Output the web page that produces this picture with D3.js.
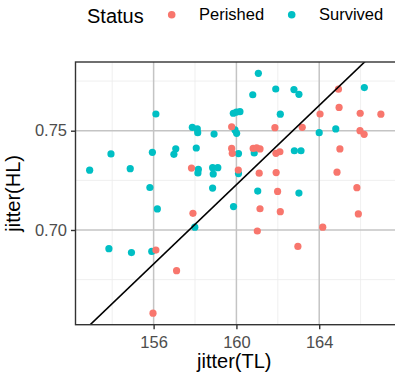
<!DOCTYPE html>
<html>
<head>
<meta charset="utf-8">
<script src="https://cdn.jsdelivr.net/npm/d3@7"></script>
<style>
  body { margin: 0; background: #fff; }
  svg { display: block; font-family: "Liberation Sans", Arial, Helvetica, sans-serif; }
</style>
</head>
<body>
<div id="chart"></div>
<script>
// values
var survivedTL = [156.11,153.94,155.94,157.07,156.98,152.91,154.87,155.82,161.06,160.79,161.90,162.78,163.02,
  159.85,160.00,160.17,162.12,157.87,158.11,158.13,158.92,159.93,160.01,158.06,160.10,160.86,162.80,163.12,
  158.16,158.14,158.85,159.10,158.88,160.10,158.85,161.03,163.02,166.18,164.00,164.80,156.18,157.99,153.84,
  154.93,155.91,159.86]
var survivedHL = [0.7584,0.7383,0.7391,0.7409,0.7381,0.7301,0.7309,0.7214,0.7789,0.7681,0.7710,0.7707,0.7683,
  0.7588,0.7594,0.7596,0.7583,0.7517,0.7509,0.7490,0.7483,0.7504,0.7487,0.7413,0.7385,0.7388,0.7399,0.7399,
  0.7305,0.7287,0.7314,0.7314,0.7282,0.7284,0.7211,0.7196,0.7186,0.7717,0.7490,0.7509,0.7106,0.7014,0.6906,
  0.6886,0.6892,0.7118]
var perishedTL = [157.83,161.86,159.77,159.77,159.80,160.81,160.98,161.14,161.91,162.10,160.09,161.10,161.92,
  161.99,164.93,164.96,164.04,165.98,166.98,163.18,165.97,166.17,165.00,164.86,165.82,157.90,156.11,157.11,
  155.97,161.14,162.12,161.01,162.97,165.89,164.17]
var perishedHL = [0.7312,0.7515,0.7520,0.7411,0.7386,0.7411,0.7414,0.7408,0.7386,0.7394,0.7302,0.7286,0.7289,
  0.7194,0.7709,0.7617,0.7584,0.7588,0.7583,0.7517,0.7500,0.7482,0.7408,0.7291,0.7213,0.7084,0.6899,0.6795,
  0.6581,0.7107,0.7092,0.6995,0.6917,0.7081,0.7014]

var statusNames = ["Perished","Survived"]
var statusColours = ["#F8766D","#00BFC4"]

var xMajor = [156,160,164]
var xMinor = [154,158,162,166]
var yMajor = [0.70,0.75]
var yMinor = [0.675,0.725,0.775]

var lineIntercept = -0.874
var lineSlope = 0.00998

var W = 395, H = 374
var pLeft = 75.5, pRight = 396, pTop = 62, pBottom = 324.7

var svg = d3.select("#chart").append("svg").attr("width",W).attr("height",H)

var x = d3.scaleLinear().domain([152.226,167.71]).range([pLeft,pRight])
var y = d3.scaleLinear().domain([0.6523,0.7846]).range([pBottom,pTop])

svg.append("defs").append("clipPath").attr("id","panel")
  .append("rect").attr("x",pLeft).attr("y",pTop).attr("width",pRight-pLeft).attr("height",pBottom-pTop)

var grid = svg.append("g")
grid.selectAll(".xmin").data(xMinor).enter().append("line")
  .attr("x1",d=>x(d)).attr("x2",d=>x(d)).attr("y1",pTop).attr("y2",pBottom)
  .attr("stroke","#EBEBEB").attr("stroke-width",0.8)
grid.selectAll(".ymin").data(yMinor).enter().append("line")
  .attr("y1",d=>y(d)).attr("y2",d=>y(d)).attr("x1",pLeft).attr("x2",pRight)
  .attr("stroke","#EBEBEB").attr("stroke-width",0.8)
grid.selectAll(".xmaj").data(xMajor).enter().append("line")
  .attr("x1",d=>x(d)).attr("x2",d=>x(d)).attr("y1",pTop).attr("y2",pBottom)
  .attr("stroke","#C4C4C4").attr("stroke-width",1.5)
grid.selectAll(".ymaj").data(yMajor).enter().append("line")
  .attr("y1",d=>y(d)).attr("y2",d=>y(d)).attr("x1",pLeft).attr("x2",pRight)
  .attr("stroke","#C4C4C4").attr("stroke-width",1.5)

var plot = svg.append("g").attr("clip-path","url(#panel)")

function drawPoints(tl,hl,colour){
  plot.append("g").selectAll("circle").data(tl).enter().append("circle")
    .attr("cx",d=>x(d)).attr("cy",(d,i)=>y(hl[i])).attr("r",3.6)
    .attr("fill",colour)
}
drawPoints(survivedTL,survivedHL,statusColours[1])
drawPoints(perishedTL,perishedHL,statusColours[0])

var xd = x.domain()
plot.append("line")
  .attr("x1",x(xd[0])).attr("y1",y(lineIntercept+lineSlope*xd[0]))
  .attr("x2",x(xd[1])).attr("y2",y(lineIntercept+lineSlope*xd[1]))
  .attr("stroke","#000").attr("stroke-width",1.6)

// panel border
svg.append("rect").attr("x",pLeft).attr("y",pTop).attr("width",pRight-pLeft).attr("height",pBottom-pTop)
  .attr("fill","none").attr("stroke","#333333").attr("stroke-width",1.4)

var xAxis = svg.append("g").attr("transform","translate(0,"+pBottom+")")
  .call(d3.axisBottom(x).tickValues(xMajor).tickSize(4.5).tickPadding(6.6).tickFormat(d3.format("d")))
var yAxis = svg.append("g").attr("transform","translate("+pLeft+",0)")
  .call(d3.axisLeft(y).tickValues(yMajor).tickSize(4.5).tickPadding(4).tickFormat(d3.format(".2f")))

;[xAxis,yAxis].forEach(function(a){
  a.select(".domain").remove()
  a.selectAll(".tick line").attr("stroke","#333333").attr("stroke-width",1.4)
  a.selectAll(".tick text").attr("fill","#4D4D4D").style("font-size","16.5px")
    .style("font-family","'Liberation Sans', Arial, sans-serif")
})

svg.append("text").text("jitter(TL)")
  .attr("x",(pLeft+393)/2).attr("y",368).attr("text-anchor","middle")
  .style("font-size","20px").attr("fill","#000")
svg.append("text").text("jitter(HL)")
  .attr("transform","translate(20,"+((pTop+pBottom)/2)+") rotate(-90)")
  .attr("text-anchor","middle").style("font-size","20px").attr("fill","#000")

// legend
var legend = svg.append("g")
legend.append("text").text("Status").attr("x",87).attr("y",22.5).style("font-size","20px")
var keyX = [171.7,291.7]
var keys = legend.selectAll("g.key").data(statusNames).enter().append("g").classed("key",true)
keys.append("circle").attr("cx",(d,i)=>keyX[i]).attr("cy",14.7).attr("r",3.8)
  .attr("fill",(d,i)=>statusColours[i])
keys.append("text").text(d=>d).attr("x",(d,i)=>keyX[i]+27.3).attr("y",20.3)
  .style("font-size","16.5px").attr("fill","#000")
</script>
</body>
</html>
